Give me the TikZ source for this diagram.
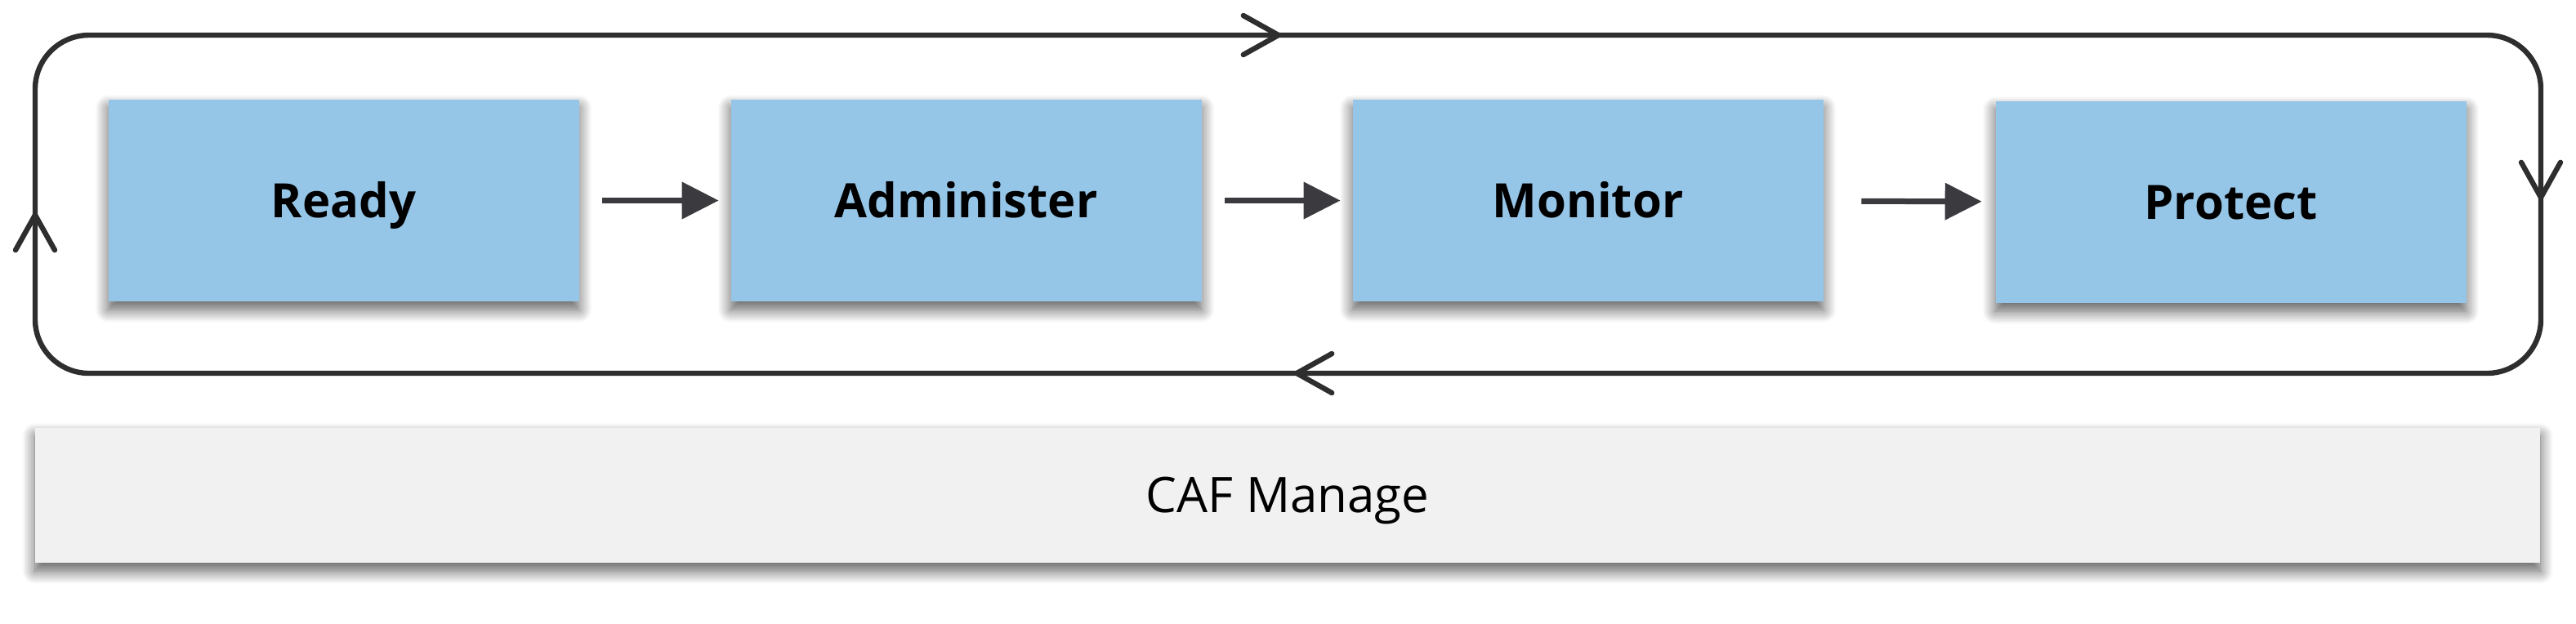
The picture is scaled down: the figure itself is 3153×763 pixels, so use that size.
\documentclass[tikz,border=0pt]{standalone}
\usepackage{fontspec}
\setmainfont{Open Sans}
\usetikzlibrary{arrows.meta,shadows.blur}
\definecolor{stageblue}{RGB}{150,198,231}
\definecolor{basegray}{RGB}{241,241,241}
\definecolor{loopgray}{RGB}{46,46,46}
\definecolor{flowgray}{RGB}{59,58,63}

\begin{document}
\begin{tikzpicture}[x=0.25pt,y=0.25pt,yscale=-1,xscale=1,
    softshadow/.style={blur shadow={shadow xshift=0pt, shadow yshift=-2.5pt, shadow blur radius=4pt, shadow blur steps=12, shadow opacity=65}},
    stage/.style={fill=stageblue, minimum width=144pt, minimum height=61.75pt, inner sep=0pt,
      font=\fontsize{14.5}{17}\selectfont\bfseries, text height=10.4pt, text depth=0pt, softshadow},
    base/.style={fill=basegray, minimum width=766.5pt, minimum height=41.25pt, inner sep=0pt,
      font=\fontsize{15}{18}\selectfont, text height=10.7pt, text depth=0pt, softshadow},
    flow/.style={draw=flowgray, line width=1.75pt, -{Triangle[length=11.25pt,width=11pt]},
      shorten <=7pt, shorten >=3.5pt},
    loopline/.style={draw=loopgray, line width=1.6pt, rounded corners=16.5pt},
    looptip/.style={draw=loopgray, line width=1.6pt, line cap=round,
      -{Straight Barb[length=10.75pt,width=12pt,round]}}]
\useasboundingbox (0,0) rectangle (3153,763);
% cycle round the four stages
\draw[loopline] (43,43) rectangle (3110,457);
\draw[looptip] (1520,43) -- (1568,43);
\draw[looptip] (3110,195) -- (3110,245);
\draw[looptip] (1634,457) -- (1584,457);
\draw[looptip] (43,310) -- (43,260);
% stages
\node[stage] (ready) at (420.5,245.5) {Ready};
\node[stage] (admin) at (1182.5,245.5) {Administer};
\node[stage] (monitor) at (1943.5,245.5) {Monitor};
\node[stage] (protect) at (2730.5,247.5) {Protect};
\draw[flow] (ready) -- (admin);
\draw[flow] (admin) -- (monitor);
\draw[flow, shorten <=11.5pt, shorten >=4pt] (monitor) -- (protect);
% base layer
\node[base] (manage) at (1576,606.5) {CAF Manage};
\end{tikzpicture}
\end{document}
